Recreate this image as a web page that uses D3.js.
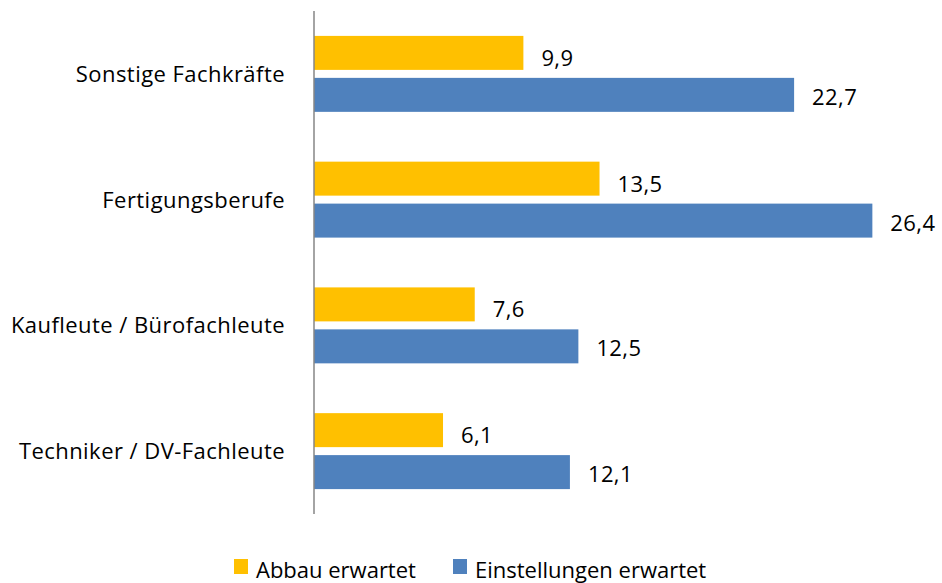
<!DOCTYPE html>
<html>
<head>
<meta charset="utf-8">
<script src="https://cdn.jsdelivr.net/npm/d3@7"></script>
<style>
  body { margin: 0; background: #fff; }
  text { font-family: "Open Sans", sans-serif; fill: #000; }
</style>
</head>
<body>
<div id="plot"></div>
<script>
// categories top to bottom
const categories = ["Sonstige Fachkräfte", "Fertigungsberufe", "Kaufleute / Bürofachleute", "Techniker / DV-Fachleute"];
const seriesNames = ["Abbau erwartet", "Einstellungen erwartet"];
const abbau = [9.9, 13.5, 7.6, 6.1];
const einstellungen = [22.7, 26.4, 12.5, 12.1];
const colors = ["#FFC000", "#4F81BD"];

window.addEventListener("load", main);

function main(){
  let [svgWidth, svgHeight] = [942, 583];
  let svg = d3.select('#plot').append('svg')
    .attr('width', svgWidth)
    .attr('height', svgHeight);

  let rows = [];
  categories.forEach((c, i) => {
    rows.push({cat: c, s: seriesNames[0], v: abbau[i]});
    rows.push({cat: c, s: seriesNames[1], v: einstellungen[i]});
  });

  let xsc = d3.scaleLinear().domain([0, 30]).range([314, 948.5]);
  let ysc = d3.scaleBand().domain(categories).range([11, 514])
    .paddingInner(0.396).paddingOuter(0.198);
  let inner = d3.scaleBand().domain(seriesNames).range([0, ysc.bandwidth()])
    .paddingInner(0.19);
  let col = d3.scaleOrdinal().domain(seriesNames).range(colors);

  // bars
  svg.append('g').selectAll('rect')
    .data(rows)
    .join('rect')
      .attr('x', xsc(0))
      .attr('y', d => ysc(d.cat) + inner(d.s))
      .attr('width', d => xsc(d.v) - xsc(0))
      .attr('height', inner.bandwidth())
      .attr('fill', d => col(d.s));

  // value labels
  svg.append('g').selectAll('text')
    .data(rows)
    .join('text')
      .attr('x', d => xsc(d.v) + 18)
      .attr('y', d => ysc(d.cat) + inner(d.s) + inner.bandwidth() / 2 + (d.s === seriesNames[0] ? 5 : 2))
      .attr('dy', '0.36em')
      .style('font-size', '22px')
      .style('letter-spacing', '0.4px')
      .text(d => d3.format('.1f')(d.v).replace('.', ','));

  // y axis (line only) and category labels
  svg.append('line')
    .attr('x1', xsc(0)).attr('x2', xsc(0))
    .attr('y1', 11).attr('y2', 514)
    .attr('stroke', '#868686').attr('stroke-width', 1.5);

  svg.append('g').selectAll('text')
    .data(categories)
    .join('text')
      .attr('x', 285)
      .attr('y', d => ysc(d) + ysc.bandwidth() / 2)
      .attr('dy', '0.36em')
      .attr('text-anchor', 'end')
      .style('font-size', '22px')
      .style('letter-spacing', '0.45px')
      .text(d => d);

  // legend
  let legX = [234, 453];
  let leg = svg.append('g').selectAll('g')
    .data(seriesNames)
    .join('g')
      .attr('transform', (d, i) => `translate(${legX[i]},559)`);
  leg.append('rect').attr('width', 14).attr('height', 15).attr('fill', d => col(d));
  leg.append('text').attr('x', 22).attr('y', 19)
    .style('font-size', '22px').text(d => d);
}
</script>
</body>
</html>
